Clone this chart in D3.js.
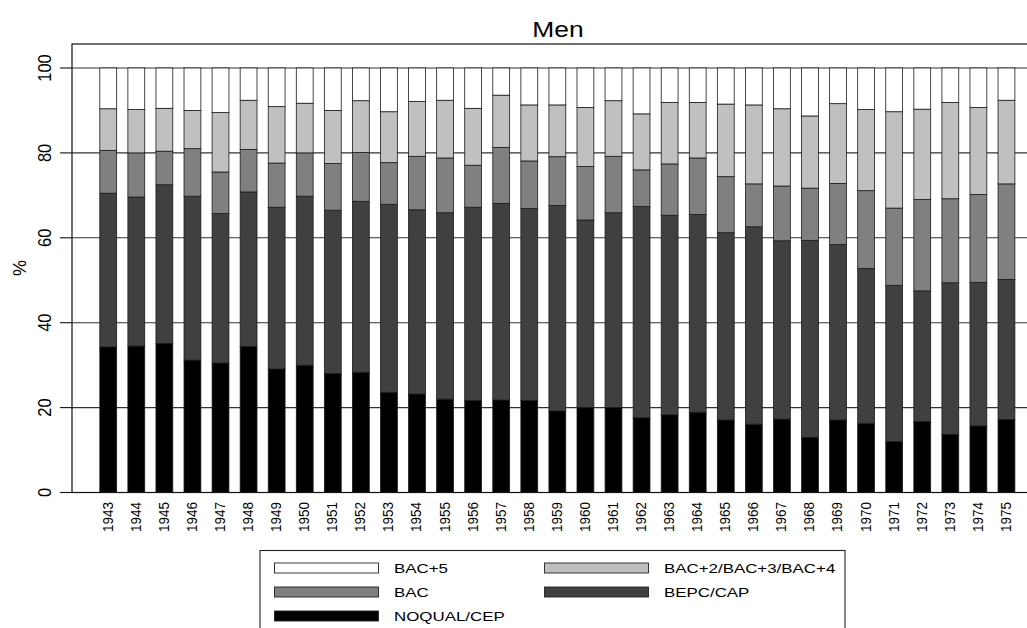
<!DOCTYPE html>
<html>
<head>
<meta charset="utf-8">
<script src="https://cdn.jsdelivr.net/npm/d3@7"></script>
<style>
    body { margin: 0; background: #fff; }
    text { font-family: "Liberation Sans", Arial, sans-serif; fill: #000; }
</style>
</head>
<body>
<div id="chart"></div>
<script>

// years on the x axis
let years = d3.range(1943, 1976).map(String);

// shares (%) per qualification, bottom of the stack first
let noqualCep = [34.3,34.5,35.1,31.2,30.5,34.4,29.1,30.0,28.0,28.3,23.6,23.2,22.0,21.7,21.8,21.7,19.2,20.0,20.0,17.6,18.3,18.9,17.1,16.1,17.3,13.0,17.1,16.3,12.0,16.7,13.7,15.7,17.2];
let bepcCap   = [36.2,35.1,37.4,38.6,35.2,36.4,38.1,39.8,38.5,40.3,44.3,43.4,43.9,45.5,46.3,45.2,48.4,44.2,45.9,49.8,47.0,46.6,44.1,46.5,42.0,46.4,41.3,36.5,36.8,30.8,35.7,33.8,33.0];
let bac       = [10.1,10.4,7.9,11.2,9.8,10.0,10.4,10.2,11.0,11.5,9.8,12.6,12.9,9.9,13.2,11.2,11.5,12.6,13.3,8.6,12.1,13.3,13.2,10.1,12.9,12.3,14.4,18.3,18.2,21.5,19.8,20.7,22.5];
let bac234    = [9.8,10.2,10.1,9.0,14.0,11.6,13.3,11.7,12.5,12.2,12.0,12.9,13.6,13.4,12.3,13.2,12.2,13.9,13.1,13.2,14.5,13.1,17.1,18.6,18.2,17.0,18.8,19.1,22.7,21.3,22.7,20.5,19.7];
let bac5      = [9.6,9.8,9.5,10.0,10.5,7.6,9.1,8.3,10.0,7.7,10.3,7.9,7.6,9.5,6.4,8.7,8.7,9.3,7.7,10.8,8.1,8.1,8.5,8.7,9.6,11.3,8.4,9.8,10.3,9.7,8.1,9.3,7.6];

let seriesKeys   = ["NOQUAL/CEP", "BEPC/CAP", "BAC", "BAC+2/BAC+3/BAC+4", "BAC+5"];
let seriesValues = [noqualCep, bepcCap, bac, bac234, bac5];
let seriesFills  = ["#000000", "#404040", "#808080", "#c0c0c0", "#ffffff"];

// legend order as in the picture (two columns)
let legendOrder = ["BAC+5", "BAC+2/BAC+3/BAC+4", "BAC", "BEPC/CAP", "NOQUAL/CEP"];

let yTicks = [0, 20, 40, 60, 80, 100];

// ---------------------------------------------------------------

let fullWidth = 1027, fullHeight = 628;
let margin = {top: 44, left: 72};
let width = 972, height = 448.5;

let svg = d3.select("#chart").append("svg")
    .attr("width", fullWidth)
    .attr("height", fullHeight);

// title (text is a bit wider than plain Arial in the original export)
svg.append("text")
    .attr("text-anchor", "middle")
    .attr("transform", `translate(${margin.left + width / 2},37) scale(1.2,1)`)
    .style("font-size", "22px")
    .text("Men");

let g = svg.append("g")
    .attr("transform", `translate(${margin.left},${margin.top})`);

// rows for the stack
let table = years.map((yr, i) => {
    let row = {year: yr};
    seriesKeys.forEach((k, j) => row[k] = seriesValues[j][i]);
    return row;
});
let stacked = d3.stack().keys(seriesKeys)(table);

// scales
let x = d3.scaleBand()
    .domain(years)
    .range([22.2, 948.5])
    .paddingInner(0.4)
    .paddingOuter(0.2);

let y = d3.scaleLinear()
    .domain([0, 100])
    .range([height, 24]);

let color = d3.scaleOrdinal().domain(seriesKeys).range(seriesFills);

// gridlines
g.append("g").attr("class", "grid")
    .selectAll("line")
    .data(yTicks)
    .join("line")
    .attr("x1", 0).attr("x2", width)
    .attr("y1", d => y(d)).attr("y2", d => y(d))
    .attr("stroke", "#333")
    .attr("stroke-width", 1.1);

// frame
g.append("rect")
    .attr("x", 0).attr("y", 0)
    .attr("width", width).attr("height", height)
    .attr("fill", "none")
    .attr("stroke", "#111")
    .attr("stroke-width", 1.2);

// bars
g.append("g").attr("class", "bars")
    .selectAll("g")
    .data(stacked)
    .join("g")
    .attr("fill", d => color(d.key))
    .selectAll("rect")
    .data(d => d)
    .join("rect")
    .attr("x", d => x(d.data.year))
    .attr("width", x.bandwidth())
    .attr("y", d => y(d[1]))
    .attr("height", d => y(d[0]) - y(d[1]))
    .attr("stroke", "#1a1a1a")
    .attr("stroke-width", 0.8);

// y axis: one group per tick, tick mark + label turned to read upwards
let yTick = g.append("g").attr("class", "axis y-axis")
    .selectAll("g")
    .data(yTicks)
    .join("g")
    .attr("transform", d => `translate(0,${y(d)})`);

yTick.append("line")
    .attr("x1", -12).attr("x2", 0)
    .attr("stroke", "#111")
    .attr("stroke-width", 1.1);

yTick.append("g")
    .attr("transform", "translate(-21,0)")
    .append("text")
    .attr("text-anchor", "middle")
    .attr("transform", "scale(1.12,1) rotate(-90)")
    .style("font-size", "16.5px")
    .text(d => d);

// y axis title
g.append("g")
    .attr("transform", `translate(${20 - margin.left},${268 - margin.top})`)
    .append("text")
    .attr("text-anchor", "middle")
    .attr("dy", "0.35em")
    .attr("transform", "rotate(-90)")
    .style("font-size", "18px")
    .text("%");

// x axis labels (rotated)
g.append("g").attr("class", "axis x-axis")
    .selectAll("text")
    .data(years)
    .join("text")
    .attr("text-anchor", "end")
    .attr("dy", "0.35em")
    .attr("transform", d => `translate(${x(d) + x.bandwidth() / 2 - 1},${height + 9.5}) scale(1.15,1) rotate(-90)`)
    .style("font-size", "13.5px")
    .text(d => d);

// legend
let legend = svg.append("g").attr("class", "legend");
legend.append("rect")
    .attr("x", 260).attr("y", 550.5)
    .attr("width", 585).attr("height", 100)
    .attr("fill", "#fff")
    .attr("stroke", "#222")
    .attr("stroke-width", 1.1);

let legendItems = legend.selectAll("g.item")
    .data(legendOrder)
    .join("g")
    .attr("class", "item")
    .attr("transform", (d, i) => `translate(${i % 2 === 0 ? 274.5 : 544.5},${568 + Math.floor(i / 2) * 24})`);

legendItems.append("rect")
    .attr("x", 0).attr("y", -5)
    .attr("width", 104).attr("height", 10)
    .attr("fill", d => color(d))
    .attr("stroke", "#222")
    .attr("stroke-width", 0.9);

legendItems.append("text")
    .attr("dy", "0.35em")
    .attr("transform", "translate(119.5,0) scale(1.3,1)")
    .style("font-size", "13px")
    .text(d => d);

</script>
</body>
</html>
